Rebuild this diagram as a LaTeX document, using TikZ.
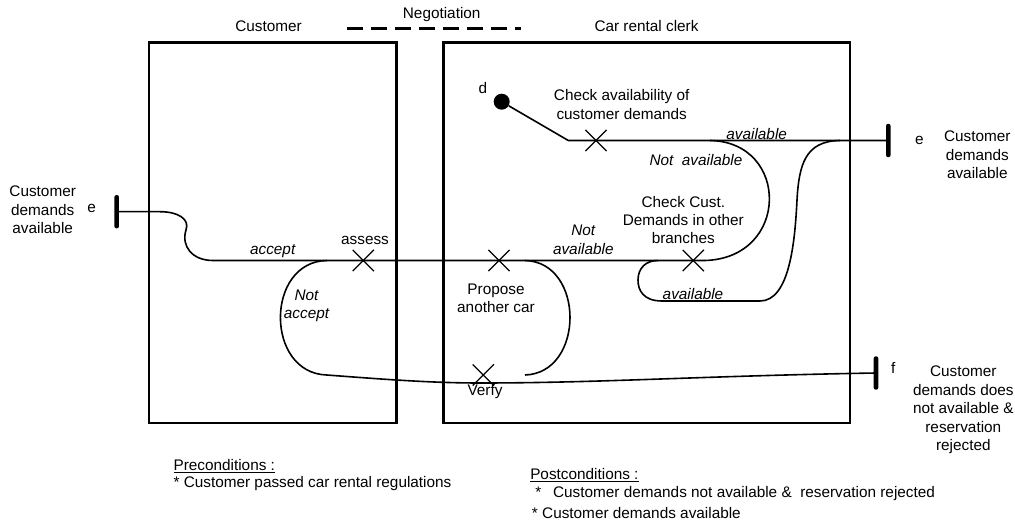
\documentclass[tikz,border=0pt]{standalone}
\usepackage{fontspec}
\setmainfont{Liberation Sans}
\usetikzlibrary{shapes.misc}

\tikzset{
  lane/.style={line width=2.2pt},
  flow/.style={line width=1.2pt},
  xmark/.style={cross out, draw, line width=0.9pt, minimum size=15pt},
  endbar/.style={fill, rounded corners=1.5pt, minimum width=3.4pt, minimum height=25pt},
  startdot/.style={circle, fill, minimum size=12pt},
  cond/.style={font=\fontsize{11.5}{13.8}\selectfont\itshape}
}

\begin{document}
\begin{tikzpicture}[x=0.75pt,y=-0.75pt,inner sep=0pt,align=center,
  font=\fontsize{11.5}{13.8}\selectfont]
\useasboundingbox (0,0) rectangle (1015,527);

% the two roles
\draw[lane] (149,42.7) rectangle (396.5,423);
\draw[lane] (443.5,42.7) rectangle (850,423);
\node (customer) at (268.5,26) {Customer};
\node (clerk) at (646.5,26) {Car rental clerk};
\node (nego) at (441.7,15) {Negotiation};
\coordinate (neg1) at (346.7,28.5);
\coordinate (neg2) at (521,28.5);
\draw[line width=2.2pt, dash pattern=on 12pt off 6pt] (neg1) -- (neg2);

% start and end points
\node[startdot] (start) at (501.7,101.7) {};
\node (dlbl) at (483,88) {d};
\node[endbar] (eL) at (116.7,211.7) {};
\node[endbar] (eR) at (888.3,140.5) {};
\node[endbar] (fR) at (876,373) {};
\node (eLlbl) at (91.7,208.3) {e};
\node (eRlbl) at (919.3,140) {e};
\node (flbl) at (893.3,368.3) {f};
\node (eLtxt) at (42.7,210) {Customer\\demands\\available};
\node (eRtxt) at (977.3,155) {Customer\\demands\\available};
\node (ftxt) at (963.3,410) {Customer\\demands does\\not available \&\\reservation\\rejected};

% activities
\node[xmark] (chkav) at (596,140.5) {};
\node[xmark] (assess) at (363.3,260.5) {};
\node[xmark] (propose) at (499,260.5) {};
\node[xmark] (chkbr) at (693.3,260.5) {};
\node[xmark] (verfy) at (483.3,375) {};
\node (chkavlbl) at (621.7,104.5) {Check availability of\\customer demands};
\node (assesslbl) at (365,240) {assess};
\node (proposelbl) at (496,298.3) {Propose\\another car};
\node (chkbrlbl) at (683.3,220) {Check Cust.\\Demands in other\\branches};
\node (verfylbl) at (485,391.7) {Verfy};

% path waypoints
\coordinate (t1) at (568.3,140.5);
\coordinate (m1) at (160,211.7);
\coordinate (m2) at (213,260.5);
\coordinate (m3) at (705,260.5);
\coordinate (na1) at (326.7,260.5);
\coordinate (na2) at (326.7,375);
\coordinate (bt1) at (480,383);
\coordinate (pc1) at (525,260.5);
\coordinate (pc2) at (525,375);
\coordinate (nv1) at (710,140.5);
\coordinate (av1) at (840,140.5);
\coordinate (av2) at (797,200);
\coordinate (av3) at (760,301);
\coordinate (av4) at (662,301);
\coordinate (av5) at (638,280);
\coordinate (av6) at (658,260.5);

\draw[flow] (start) -- (t1) -- (eR.center);
\draw[flow] (eL.center) -- (m1) .. controls (178,211.7) and (190,219) .. (186,230)
  .. controls (181,246) and (192,260.5) .. (m2) -- (m3);
\draw[flow] (na1) .. controls (265,262) and (265,373) .. (na2)
  .. controls (380,379) and (430,383) .. (bt1)
  .. controls (600,383) and (700,376) .. (fR.center);
\draw[flow] (pc1) .. controls (585,262) and (585,373) .. (pc2);
\draw[flow] (nv1) .. controls (790,142) and (790,258) .. (m3);
\draw[flow] (av1) .. controls (805,141) and (799,165) .. (av2)
  .. controls (795,240) and (790,301) .. (av3) -- (av4)
  .. controls (643,301) and (638,290) .. (av5)
  .. controls (638,268) and (646,260.5) .. (av6);

% guard conditions
\node[cond] (acc) at (272.7,251) {accept};
\node[cond] (nacc) at (306.5,305.7) {Not\\accept};
\node[cond] (avtop) at (756.7,134) {available};
\node[cond] (navtop) at (696,160) {Not\ \ available};
\node[cond] (navmid) at (583.3,240) {Not\\available};
\node[cond] (avlow) at (693,294) {available};

% pre and post conditions
\node[anchor=west] (pre) at (173.3,466) {\underline{Preconditions :}};
\node[anchor=west] (pre1) at (173.3,483.3) {* Customer passed car rental regulations};
\node[anchor=west] (post) at (530,475) {\underline{Postconditions :}};
\node[anchor=west] (post1) at (535,493.3) {*\hspace{0.5em} Customer demands not available \& \ reservation rejected};
\node[anchor=west] (post2) at (531.7,513.3) {* Customer demands available};
\end{tikzpicture}
\end{document}
